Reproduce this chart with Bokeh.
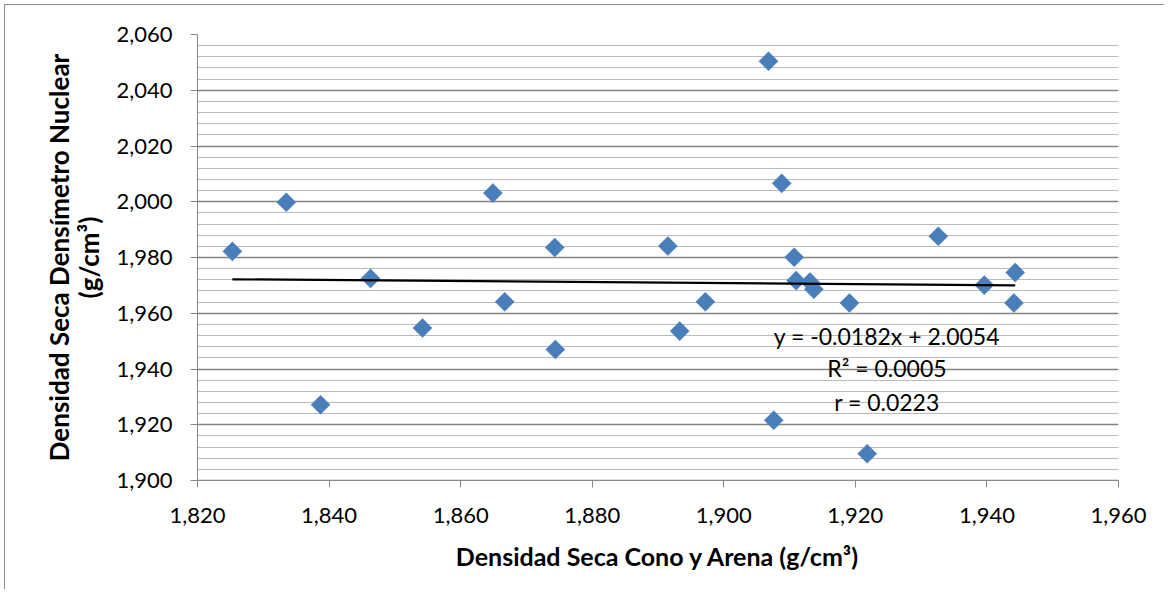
import numpy as np
from bokeh.plotting import figure
from bokeh.models import (SingleIntervalTicker, CustomJSTickFormatter, Range1d,
                          ColumnDataSource, Label)
from bokeh.embed import file_html
from bokeh.resources import INLINE

# Data (g/cm³)
cono_arena = [1.8253, 1.8335, 1.8387, 1.8463, 1.8542, 1.8649, 1.8667, 1.8743,
              1.8744, 1.8915, 1.8933, 1.8972, 1.9068, 1.9076, 1.9088, 1.9107,
              1.9110, 1.9131, 1.9137, 1.9191, 1.9218, 1.9326, 1.9396, 1.9441,
              1.9443]
nuclear = [1.9822, 1.9998, 1.9272, 1.9725, 1.9547, 2.0031, 1.9641, 1.9836,
           1.9470, 1.9841, 1.9536, 1.9641, 2.0504, 1.9216, 2.0066, 1.9801,
           1.9717, 1.9712, 1.9686, 1.9637, 1.9096, 1.9876, 1.9701, 1.9637,
           1.9746]

slope = -0.0182
intercept = 2.0054
r2 = 0.0005
r = 0.0223

x_title = "Densidad Seca Cono y Arena (g/cm³)"
y_title = "Densidad Seca Densímetro Nuclear\n(g/cm³)"

FONT = "Lato"
AXIS_GREY = "#878787"

p = figure(width=1160, height=585, output_backend="svg", toolbar_location=None,
           x_range=Range1d(1.82, 1.96), y_range=Range1d(1.90, 2.06),
           min_border_left=192, min_border_right=47, min_border_top=29,
           min_border_bottom=110)
p.styles = {"margin-left": "4px", "margin-top": "4px",
            "border-left": "1px solid #8c8c8c", "border-top": "1px solid #8c8c8c"}
p.outline_line_color = None
p.background_fill_color = "white"
p.border_fill_color = "white"

fmt = CustomJSTickFormatter(code="return tick.toFixed(3).replace('.', ',');")

p.xaxis.ticker = SingleIntervalTicker(interval=0.02, num_minor_ticks=0)
p.yaxis.ticker = SingleIntervalTicker(interval=0.02, num_minor_ticks=5)
for ax in (p.xaxis, p.yaxis):
    ax.formatter = fmt
    ax.axis_line_color = AXIS_GREY
    ax.axis_line_width = 1
    ax.major_tick_line_color = AXIS_GREY
    ax.major_tick_out = 7
    ax.major_tick_in = 0
    ax.minor_tick_line_color = None
    ax.major_label_text_font = FONT
    ax.major_label_text_font_size = "22px"
    ax.major_label_text_color = "black"
    ax.axis_label_text_font = FONT
    ax.axis_label_text_font_style = "bold"
    ax.axis_label_text_color = "black"

p.xaxis.axis_label = x_title
p.yaxis.axis_label = y_title
p.xaxis.axis_label_text_font_size = "25px"
p.yaxis.axis_label_text_font_size = "26px"
p.yaxis.axis_label_text_line_height = 0.95
p.xaxis.major_label_standoff = 20
p.yaxis.major_label_standoff = 18
p.xaxis.axis_label_standoff = 15
p.yaxis.axis_label_standoff = 8

p.xgrid.grid_line_color = None
p.ygrid.grid_line_color = "#858585"
p.ygrid.grid_line_width = 1.3
p.ygrid.minor_grid_line_color = "#bababa"
p.ygrid.minor_grid_line_width = 1.2

src = ColumnDataSource(dict(x=cono_arena, y=nuclear))
p.scatter("x", "y", source=src, marker="square", size=13.5, angle=np.pi / 4,
          fill_color="#4a7ebb", line_color="#4a7ebb", line_width=0.5)

xs = np.array([min(cono_arena), max(cono_arena)])
p.line(xs, slope * xs + intercept, line_color="black", line_width=2.2)

eq_lines = [f"y = {slope:.4f}x + {intercept:.4f}", f"R² = {r2:.4f}", f"r = {r:.4f}"]
eq_y = [1.9520, 1.9402, 1.9280]
for t, yy in zip(eq_lines, eq_y):
    p.add_layout(Label(x=1.9248, y=yy, text=t, text_align="center",
                       text_baseline="middle", text_font=FONT,
                       text_font_size="23px", text_color="black"))

open("out.html", "w").write(file_html(p, INLINE))
